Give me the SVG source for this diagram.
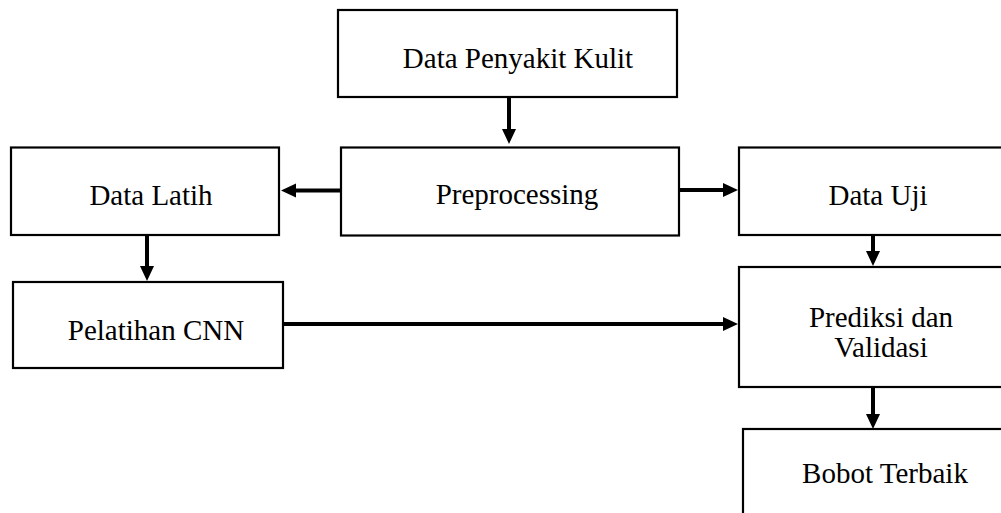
<svg xmlns="http://www.w3.org/2000/svg" width="1001" height="513" viewBox="0 0 1001 513">
<style>
.box{fill:#fff;stroke:#000;stroke-width:2.2}
.lbl{font-family:"Liberation Serif","Times New Roman",serif;font-size:29px;fill:#000;text-anchor:middle}
.con{stroke:#000;stroke-width:4;fill:none}
</style>
<defs>
<marker id="ah" markerUnits="userSpaceOnUse" markerWidth="16" markerHeight="16" refX="1" refY="7" orient="auto">
<path d="M0,0 L15,7 L0,14 z" fill="#000"/>
</marker>
</defs>
<rect width="1001" height="513" fill="#fff"/>
<g id="n-data-penyakit">
<rect class="box" x="338" y="10" width="339" height="87"/>
<text class="lbl" x="518" y="68">Data Penyakit Kulit</text>
</g>
<g id="n-preprocessing">
<rect class="box" x="341" y="147.5" width="338" height="88"/>
<text class="lbl" x="517" y="204">Preprocessing</text>
</g>
<g id="n-data-latih">
<rect class="box" x="11" y="147.5" width="268" height="87.5"/>
<text class="lbl" x="151" y="205">Data Latih</text>
</g>
<g id="n-data-uji">
<rect class="box" x="739" y="147.5" width="270" height="87.5"/>
<text class="lbl" x="878" y="205">Data Uji</text>
</g>
<g id="n-pelatihan">
<rect class="box" x="13" y="282" width="270" height="86"/>
<text class="lbl" x="156" y="340">Pelatihan CNN</text>
</g>
<g id="n-prediksi">
<rect class="box" x="739" y="267" width="270" height="120"/>
<text class="lbl" x="881" y="327">Prediksi dan</text>
<text class="lbl" x="881" y="357">Validasi</text>
</g>
<g id="n-bobot">
<rect class="box" x="743" y="429" width="270" height="100"/>
<text class="lbl" x="885" y="483">Bobot Terbaik</text>
</g>
<g id="connectors">
<path class="con" d="M509,97 V130" marker-end="url(#ah)"/>
<path class="con" d="M341,190.5 H295" marker-end="url(#ah)"/>
<path class="con" d="M679,190 H724" marker-end="url(#ah)"/>
<path class="con" d="M147,235 V267" marker-end="url(#ah)"/>
<path class="con" d="M283,324 H724" marker-end="url(#ah)"/>
<path class="con" d="M873,235 V252" marker-end="url(#ah)"/>
<path class="con" d="M873,387 V415" marker-end="url(#ah)"/>
</g>
</svg>
